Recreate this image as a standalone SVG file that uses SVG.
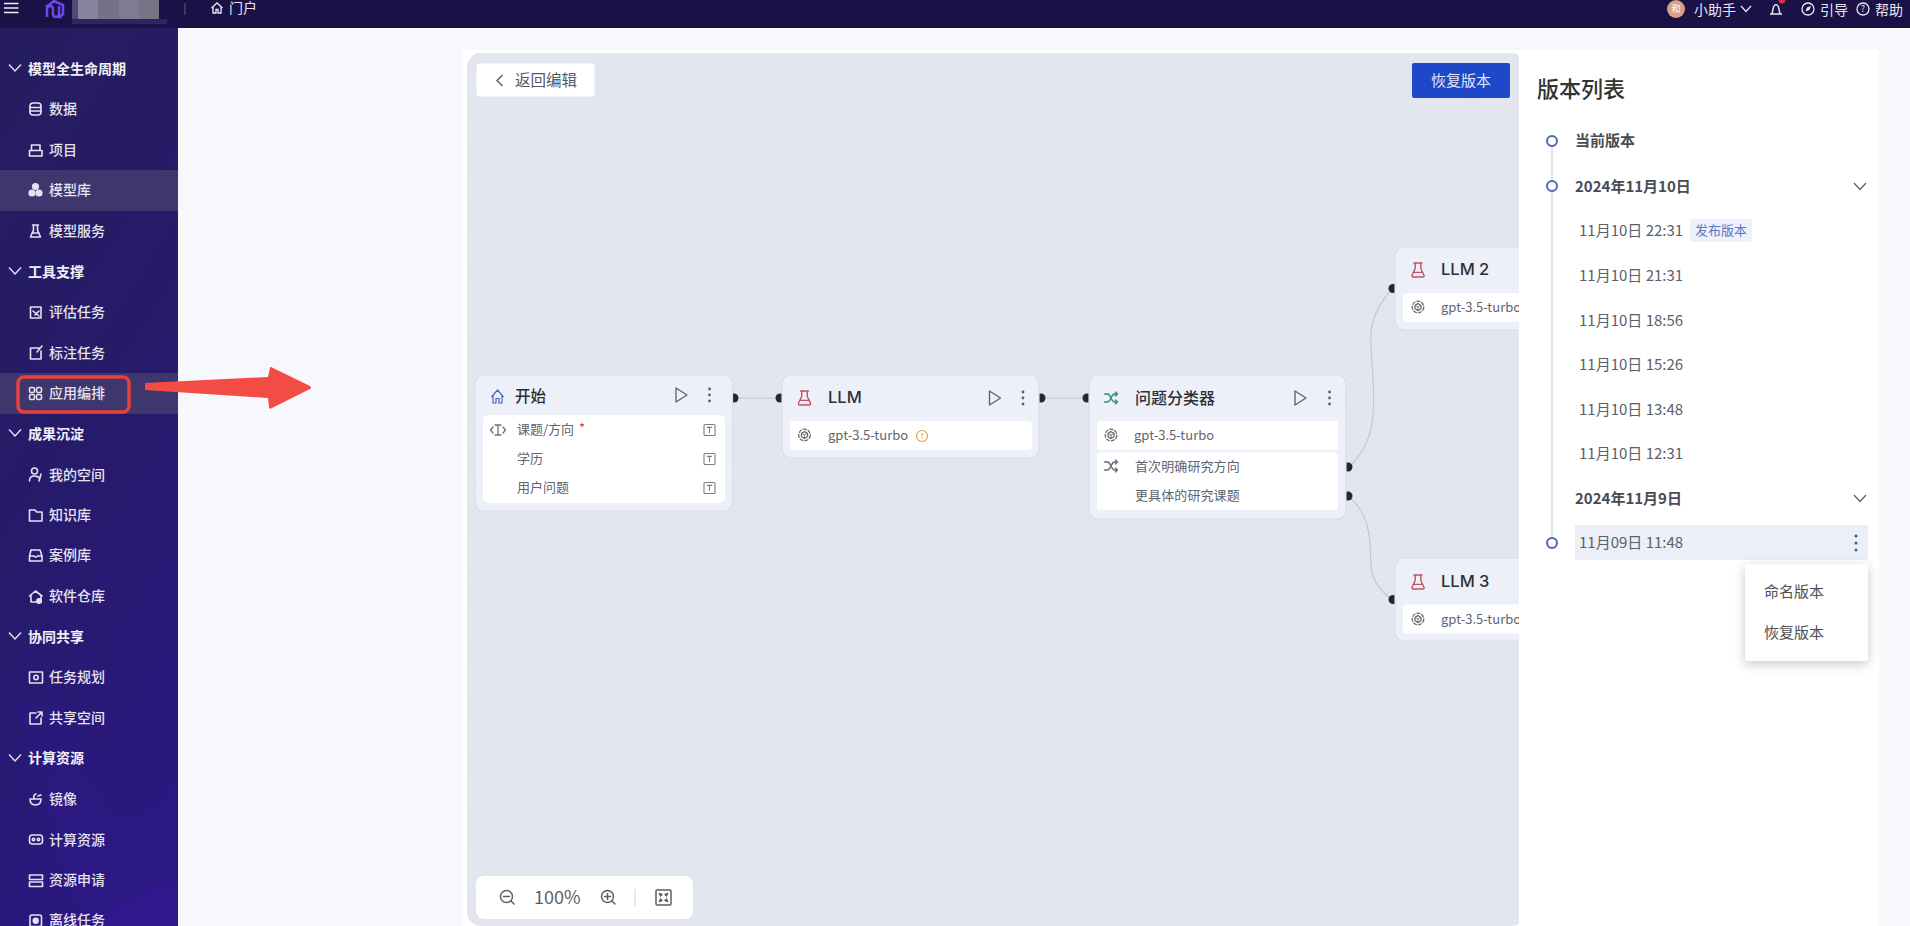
<svg xmlns="http://www.w3.org/2000/svg" width="1910" height="926" viewBox="0 0 1910 926">
<style>
text{font-family:"Noto Sans CJK SC","Liberation Sans",sans-serif;dominant-baseline:central;transform:translateY(-1.3px)}
.hd{font-size:14px;font-weight:700;fill:#f1f0f7}
.it{font-size:14px;font-weight:500;fill:#e4e2f0}
.ic{fill:none;stroke:#e4e2f0;stroke-width:1.6;stroke-linecap:round;stroke-linejoin:round}
.chev{fill:none;stroke:#e4e2f0;stroke-width:1.4}
.top{font-size:14px;fill:#e8e6f2}
.nb{fill:#edf0f8;stroke:#d9dde7;stroke-width:1.2}
.in{fill:#fff}
.tt{font-size:15.500px;font-weight:500;fill:#2c2f36}
.lt{font-family:Inter,"Liberation Sans",sans-serif;font-size:16.500px;font-weight:500;fill:#2c2f36}
.sm{font-size:13px;fill:#5f6470}
.line{fill:none;stroke:#c3c8d2;stroke-width:1.2}
.h{fill:#222730}
.g{fill:none;stroke:#6b7078;stroke-width:1.3;stroke-linecap:round;stroke-linejoin:round}
.v{font-size:15px;fill:#5c6068}
.vb{font-size:15px;font-weight:700;fill:#484c54}
.dot{fill:#fff;stroke:#4c68b6;stroke-width:2}
.pv{fill:none;stroke:#5d6169;stroke-width:1.3;stroke-linejoin:round}
.vd{fill:#5d6169}
</style>
<defs>
<linearGradient id="sb" x1="0" y1="0" x2="0.3" y2="1"><stop offset="0" stop-color="#251d5f"/><stop offset="0.5" stop-color="#261b68"/><stop offset="1" stop-color="#2b187f"/></linearGradient>
<pattern id="hatch" patternUnits="userSpaceOnUse" width="5" height="5" patternTransform="rotate(45)"><rect width="5" height="5" fill="#e4e7f0"/><rect width="1.800" height="5" fill="#e0e4ed"/></pattern>
<g id="flask" fill="none" stroke="#bb545c" stroke-width="1.400" stroke-linejoin="round" stroke-linecap="round"><path d="M-4,-7H4M-2.800,-7V-1.500L-6,5.200Q-6.400,7 -4.600,7H4.600Q6.400,7 6,5.200L2.800,-1.500V-7M-4,2.400H4"/></g>
<g id="knot" fill="none" stroke="#666b73" stroke-width="1.300"><circle r="5.800" stroke-dasharray="4 1"/><path d="M0,-3.400L3,-1.700V1.700L0,3.400L-3,1.700V-1.700Z"/><path d="M-3,-1.700L0,0L3,-1.700M0,0V3.400" stroke-width="0.900"/></g>
<g id="play"><path class="pv" d="M-5,-7L6,0L-5,7Z"/></g>
<g id="more"><circle cy="-6" r="1.400" class="vd"/><circle r="1.400" class="vd"/><circle cy="6" r="1.400" class="vd"/></g>
<g id="tbox"><rect x="-5.500" y="-5.500" width="11" height="11" rx="1" fill="none" stroke="#7a7f87" stroke-width="1.100"/><path d="M-2.600,-2.600H2.600M0,-2.600V3" fill="none" stroke="#7a7f87" stroke-width="1.100"/></g>
<g id="shuf" fill="none" stroke-width="1.300" stroke-linecap="round" stroke-linejoin="round"><path d="M-6.500,-4H-3.500C0,-4 0,4 3.500,4H6.500M-6.500,4H-3.500C0,4 0,-4 3.500,-4H6.500M4.500,-6L6.500,-4L4.500,-2M4.500,2L6.500,4L4.500,6"/></g>
<path id="chv" d="M-6,-3.500L0,3L6,-3.500"/>
</defs>

<rect id="page" width="1910" height="926" fill="#f7f8fb"/>
<g id="sidebar">
<rect y="28" width="178" height="898" fill="url(#sb)"/>
<path d="M0,700C60,760 40,860 90,926H178V780C120,860 90,800 60,700Z" fill="#2e1a8a" opacity=".3"/>
<path d="M178,880C140,890 110,906 90,926H178Z" fill="#36199a" opacity=".4"/>
<rect y="170" width="178" height="41" fill="#3e366c"/>
<rect y="373" width="178" height="41" fill="#3e366c"/>
<g class="chev"><use href="#chv" x="15" y="68" /><use href="#chv" x="15" y="271"/><use href="#chv" x="15" y="433"/><use href="#chv" x="15" y="636"/><use href="#chv" x="15" y="758"/></g>
<text class="hd" x="28" y="69">模型全生命周期</text>
<text class="hd" x="28" y="272">工具支撑</text>
<text class="hd" x="28" y="434">成果沉淀</text>
<text class="hd" x="28" y="637">协同共享</text>
<text class="hd" x="28" y="758.500">计算资源</text>
<text class="it" x="49" y="109">数据</text>
<text class="it" x="49" y="150">项目</text>
<text class="it" x="49" y="190.500" font-weight="700">模型库</text>
<text class="it" x="49" y="231">模型服务</text>
<text class="it" x="49" y="312.500">评估任务</text>
<text class="it" x="49" y="353">标注任务</text>
<text class="it" x="49" y="393.500">应用编排</text>
<text class="it" x="49" y="475">我的空间</text>
<text class="it" x="49" y="515">知识库</text>
<text class="it" x="49" y="555.500">案例库</text>
<text class="it" x="49" y="596.500">软件仓库</text>
<text class="it" x="49" y="677.500">任务规划</text>
<text class="it" x="49" y="718">共享空间</text>
<text class="it" x="49" y="799">镜像</text>
<text class="it" x="49" y="840">计算资源</text>
<text class="it" x="49" y="880">资源申请</text>
<text class="it" x="49" y="920">离线任务</text>
<g class="ic">
<rect x="30" y="103" width="11" height="12" rx="3"/><path d="M30,107.500H41M30,111H41"/>
<path d="M29.500,150.500H42V156H29.500ZM31.500,150V145H40V150"/>
<circle cx="35.500" cy="186.500" r="2.800" fill="#e4e2f0"/><circle cx="32" cy="193" r="2.800" fill="#e4e2f0"/><circle cx="39" cy="193" r="2.800" fill="#e4e2f0"/>
<path d="M32.500,225H38.500M33.500,225V230L30.500,237H40.500L37.500,230V225M32,233H39"/>
<path d="M30.500,307H41V318H30.500ZM33,311L39,316M39,311L35,315"/>
<path d="M40,348H30.500V359H41V351M37,352L42,346"/>
<rect x="29.500" y="387.500" width="5" height="5" rx="1.500"/><rect x="36.500" y="387.500" width="5" height="5" rx="1.500"/><rect x="29.500" y="394.500" width="5" height="5" rx="1.500"/><rect x="36.500" y="394.500" width="5" height="5" rx="1.500"/>
<circle cx="34.500" cy="471" r="3"/><path d="M29.500,481Q29.500,476 34.500,476Q38,476 39,478M41,474L39,481"/>
<path d="M29.500,510H35L36.500,512H42V521H29.500Z"/>
<path d="M31,550H40L42,556V561H29.500V556ZM29.500,556H34Q35.500,558 37.500,556H42"/>
<path d="M29.500,596L35.500,591L42,596M31,595V602H41V595"/><circle cx="39" cy="601" r="2.200" fill="#e4e2f0"/>
<rect x="29.500" y="672" width="13" height="11"/><circle cx="36" cy="677.500" r="2.200"/>
<path d="M41,718V724H30V713H36M36,718L42,712M38,712H42V716"/>
<path d="M30,799H41Q41,805 35.500,805Q30,805 30,799ZM34,798Q33,795 36,794M38,796L41,795"/>
<rect x="29.500" y="835" width="13" height="9" rx="3"/><circle cx="33.500" cy="839.500" r="1.200"/><circle cx="38.500" cy="839.500" r="1.200"/>
<rect x="29.500" y="875" width="13" height="4.500"/><rect x="29.500" y="882" width="13" height="4.500"/>
<rect x="30" y="915" width="11.500" height="11.500" rx="2"/><circle cx="35.700" cy="920.700" r="2.400" fill="#e4e2f0"/>
</g>
</g>

<g id="topbar">
<rect width="1910" height="28" fill="#1a1146"/>
<path d="M4,3.500H18.500M4,8H18.500M4,12.500H18.500" stroke="#f0eff6" stroke-width="1.700" fill="none"/>
<path d="M47,17V9Q47,6 50,6Q53,6 53,9V14Q53,17 56,17Q59,17 59,14V6M46,7L54,1L63,5V14L59,18" fill="none" stroke="#6a4be8" stroke-width="2.500"/>
<rect x="72" y="19" width="95" height="5" fill="#2c2760"/>
<rect x="72" y="0" width="6" height="19" fill="#4f4a75"/><rect x="78" y="0" width="20" height="19" fill="#87839d"/><rect x="98" y="0" width="21" height="19" fill="#757189"/><rect x="119" y="0" width="20" height="19" fill="#7f7b95"/><rect x="139" y="0" width="20" height="19" fill="#787488"/>
<path d="M185,3V15" stroke="#56527a" stroke-width="1.200"/>
<path d="M211.500,8L217,3L222.500,8M213,7V13H216V9.500H218V13H221V7" fill="none" stroke="#eceaf4" stroke-width="1.300"/>
<text class="top" x="229" y="8">门户</text>
<circle cx="1676" cy="9" r="9" fill="#d9a288"/>
<text x="1676" y="10" text-anchor="middle" font-size="9" fill="#fff">和</text>
<text class="top" x="1694" y="10">小助手</text>
<path d="M1741,6L1746,11.500L1751,6" fill="none" stroke="#e8e6f2" stroke-width="1.300"/>
<path d="M1770,14H1782M1772,14L1773.500,7Q1776,2 1778.500,7L1780,14" fill="none" stroke="#e8e6f2" stroke-width="1.400"/>
<circle cx="1782" cy="0" r="3.500" fill="#d6323c"/>
<circle cx="1808" cy="9" r="6" fill="none" stroke="#e8e6f2" stroke-width="1.300"/><path d="M1805.500,11.500L1807,7.500L1811,6L1809.500,10Z" fill="#e8e6f2"/>
<text class="top" x="1820" y="10">引导</text>
<circle cx="1863" cy="9" r="6" fill="none" stroke="#e8e6f2" stroke-width="1.300"/><text x="1863" y="10" text-anchor="middle" font-size="9" fill="#e8e6f2">?</text>
<text class="top" x="1875" y="10">帮助</text>
</g>

<g id="annotation">
<rect x="18" y="377" width="111" height="35" rx="6" fill="none" stroke="#e5423e" stroke-width="3.500"/>
<path d="M145,383L268,377L270,368Q270,366 273,368L310,386Q312,388 310,389L272,408Q269,410 269,407L268,398L145,390Z" fill="#f34c45"/>
</g>

<g id="stage">
<rect x="463" y="50" width="1416" height="876" fill="#fff"/>
<rect x="467" y="53" width="1058" height="873" rx="14" fill="url(#hatch)"/>
</g>

<g id="connectors">
<path class="line" d="M735,398H779"/>
<path class="line" d="M1042,398H1086"/>
<path class="line" d="M1349,467C1378,440 1374,405 1373,378C1372,345 1362,322 1392,289"/>
<path class="line" d="M1349,497C1372,515 1370,545 1371,565C1372,578 1378,590 1392,599"/>
</g>

<g id="node-start">
<circle class="h" cx="734" cy="398" r="4.500"/>
<rect class="nb" x="475" y="375" width="257.500" height="136" rx="9"/>
<rect class="in" x="483" y="415" width="242" height="88" rx="5"/>
<path d="M491.500,397L497.500,390L503.500,397M493,395.500V403H496V398.500H499V403H502V395.500" fill="none" stroke="#4a66b8" stroke-width="1.200"/>
<text class="tt" x="515" y="396">开始</text>
<use href="#play" x="681" y="395"/><use href="#more" x="709.500" y="395"/>
<path d="M495,425H501M498,425V435M495,435H501M493,427L490.500,430L493,433M503,427L505.500,430L503,433" class="g" stroke-width="1.100"/>
<text class="sm" x="517" y="430">课题/方向</text><text x="579" y="429" font-size="13" fill="#d23b3b">*</text>
<text class="sm" x="517" y="459">学历</text>
<text class="sm" x="517" y="488">用户问题</text>
<use href="#tbox" x="709.500" y="430"/><use href="#tbox" x="709.500" y="459"/><use href="#tbox" x="709.500" y="488"/>
</g>

<g id="node-llm">
<circle class="h" cx="780" cy="398" r="4.500"/><circle class="h" cx="1041" cy="398" r="4.500"/>
<rect class="nb" x="782" y="375" width="257" height="83" rx="9"/>
<rect class="in" x="790" y="421" width="242" height="29" rx="4"/>
<use href="#flask" x="804.500" y="398"/>
<text class="lt" x="828" y="398">LLM</text>
<use href="#play" x="994.500" y="398"/><use href="#more" x="1023" y="398"/>
<use href="#knot" x="804.500" y="435"/>
<text class="sm" x="828" y="436">gpt-3.5-turbo</text>
<circle cx="922" cy="436" r="5.500" fill="none" stroke="#e5a24c" stroke-width="1.200"/><path d="M922,433V436.500M922,438V439" stroke="#e5a24c" stroke-width="1.200"/>
</g>

<g id="node-classifier">
<circle class="h" cx="1087" cy="398" r="4.500"/><circle class="h" cx="1348" cy="467" r="4.500"/><circle class="h" cx="1348" cy="496" r="4.500"/>
<rect class="nb" x="1089" y="375" width="257" height="144" rx="9"/>
<rect class="in" x="1097" y="421" width="241" height="29" rx="3"/>
<rect class="in" x="1097" y="452.500" width="241" height="57.500" rx="3"/>
<use href="#shuf" x="1111" y="398" stroke="#2f8a80"/>
<text class="tt" x="1135" y="398" font-size="16" style="font-size:16px">问题分类器</text>
<use href="#play" x="1300" y="398"/><use href="#more" x="1329.500" y="398"/>
<use href="#knot" x="1111" y="435"/>
<text class="sm" x="1134" y="436">gpt-3.5-turbo</text>
<use href="#shuf" x="1111" y="466" stroke="#666b73"/>
<text class="sm" x="1135" y="467" style="letter-spacing:.1px">首次明确研究方向</text>
<text class="sm" x="1135" y="496" style="letter-spacing:.1px">更具体的研究课题</text>
</g>

<g id="node-llm2">
<circle class="h" cx="1393" cy="288.500" r="4.500"/>
<rect class="nb" x="1395" y="247" width="160" height="83" rx="9"/>
<rect class="in" x="1403" y="293" width="140" height="29" rx="4"/>
<use href="#flask" x="1418" y="270"/>
<text class="lt" x="1441" y="270">LLM 2</text>
<use href="#knot" x="1418" y="307"/>
<text class="sm" x="1441" y="308">gpt-3.5-turbo</text>
</g>

<g id="node-llm3">
<circle class="h" cx="1393" cy="599.500" r="4.500"/>
<rect class="nb" x="1395" y="558" width="160" height="83" rx="9"/>
<rect class="in" x="1403" y="604.500" width="140" height="29" rx="4"/>
<use href="#flask" x="1418" y="582"/>
<text class="lt" x="1441" y="582">LLM 3</text>
<use href="#knot" x="1418" y="619"/>
<text class="sm" x="1441" y="620">gpt-3.5-turbo</text>
</g>

<g id="toolbar">
<rect x="476" y="63" width="119" height="34" rx="3" fill="#fff" stroke="#e3e6ee"/>
<path d="M502.500,75L497,80.500L502.500,86" fill="none" stroke="#55595f" stroke-width="1.400"/>
<text x="515" y="80.500" font-size="15.500" fill="#55595f">返回编辑</text>
<rect x="1412" y="63" width="98" height="35" rx="2" fill="#1d48c8"/>
<text x="1461" y="80.500" font-size="15" fill="#dfe6fa" text-anchor="middle">恢复版本</text>
<rect x="476" y="876" width="217" height="43" rx="8" fill="#fff"/>
<g fill="none" stroke="#5b6066" stroke-width="1.500" stroke-linecap="round">
<circle cx="506.500" cy="896.500" r="6"/><path d="M503.500,896.500H509.500M511,901L514,904"/>
<circle cx="607.500" cy="896.500" r="6"/><path d="M604.500,896.500H610.500M607.500,893.500V899.500M612,901L615,904"/>
<rect x="656" y="890" width="15" height="15" rx="1"/>
</g>
<path d="M659,893L662.500,894.500L660.500,896.500ZM668,893L664.500,894.500L666.500,896.500ZM659,902L662.500,900.500L660.500,898.500ZM668,902L664.500,900.500L666.500,898.500Z" fill="#5b6066" stroke="#5b6066"/>
<path d="M635,889V906" stroke="#e0e2e8" stroke-width="1.500"/>
<text x="534" y="897.500" font-size="18" fill="#5b6066">100%</text>
</g>

<g id="version-panel">
<rect x="1519" y="50" width="360" height="876" fill="#fff"/>
<text x="1537" y="88" font-size="22" font-weight="500" fill="#333">版本列表</text>
<path d="M1552,147V180M1552,192V537" stroke="#e3e5ea" stroke-width="2"/>
<circle class="dot" cx="1552" cy="141" r="5"/><circle class="dot" cx="1552" cy="186" r="5"/><circle class="dot" cx="1552" cy="543" r="5"/>
<text class="vb" x="1575" y="141">当前版本</text>
<text class="vb" x="1575" y="187">2024年11月10日</text>
<path d="M1854,183L1860,189.500L1866,183M1854,495L1860,501.500L1866,495" fill="none" stroke="#5b6066" stroke-width="1.200"/>
<text class="v" x="1579" y="231">11月10日 22:31</text>
<rect x="1690" y="219" width="62" height="23" rx="2" fill="#ecf1fc"/>
<text x="1721" y="230.500" font-size="13" fill="#5b77c5" text-anchor="middle">发布版本</text>
<text class="v" x="1579" y="276">11月10日 21:31</text>
<text class="v" x="1579" y="320.500">11月10日 18:56</text>
<text class="v" x="1579" y="365">11月10日 15:26</text>
<text class="v" x="1579" y="409.500">11月10日 13:48</text>
<text class="v" x="1579" y="454">11月10日 12:31</text>
<text class="vb" x="1575" y="499">2024年11月9日</text>
<rect x="1575" y="525" width="293" height="35" fill="#eceff7"/>
<text class="v" x="1579" y="543">11月09日 11:48</text>
<g fill="#3f5db5"><circle cx="1856" cy="536" r="1.500"/><circle cx="1856" cy="543" r="1.500"/><circle cx="1856" cy="550" r="1.500"/></g>
</g>

<g id="version-menu">
<rect x="1745" y="564" width="123" height="97" rx="2" fill="#fff" style="filter:drop-shadow(0 3px 6px rgba(0,0,0,.22))"/>
<text x="1764" y="592" font-size="15" fill="#4b4f57">命名版本</text>
<text x="1764" y="633" font-size="15" fill="#4b4f57">恢复版本</text>
</g>
</svg>
